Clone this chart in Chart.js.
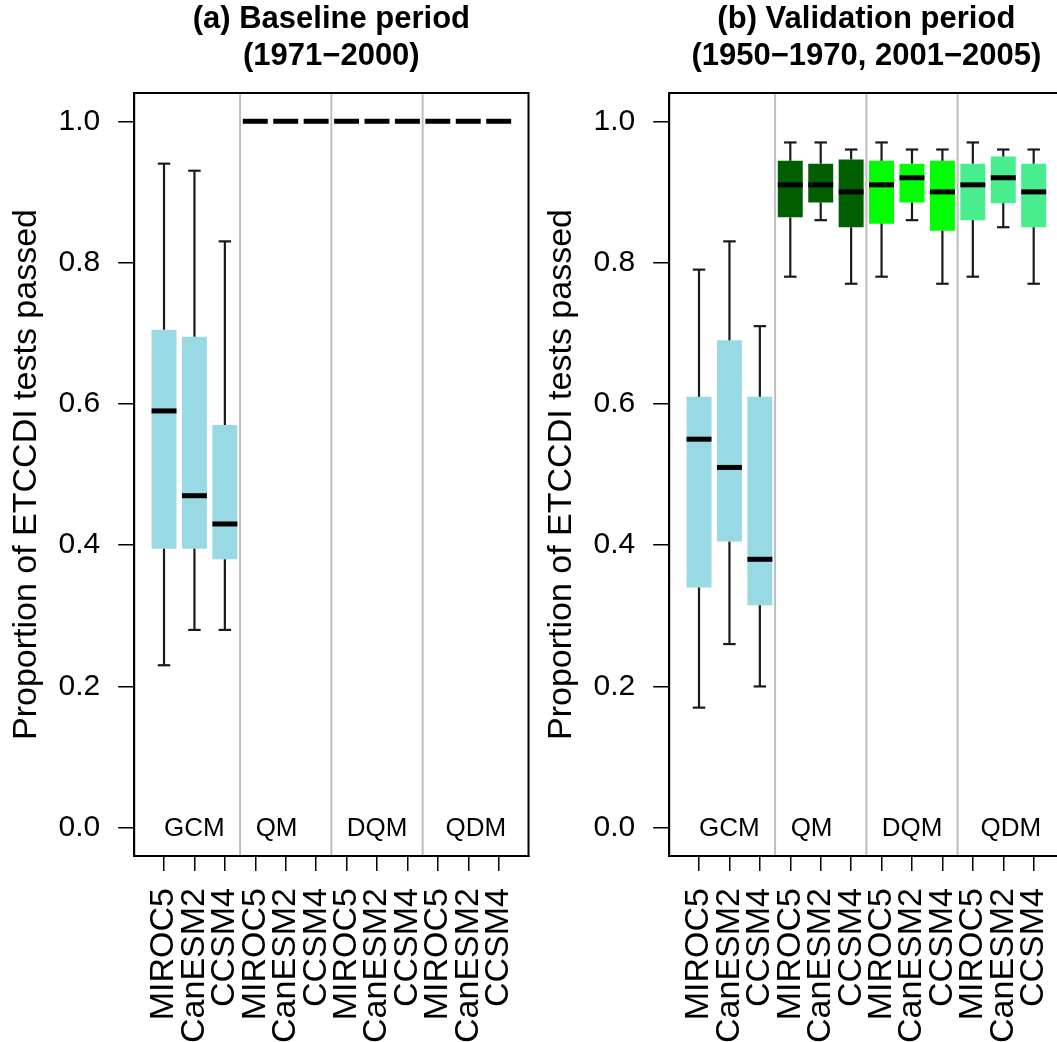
<!DOCTYPE html>
<html>
<head>
<meta charset="utf-8">
<script src="https://cdn.jsdelivr.net/npm/chart.js@4.4.1/dist/chart.umd.min.js"></script>
<style>
    html, body { margin: 0; padding: 0; background: #fff; overflow: hidden; width: 1057px; height: 1042px; }
    .panel { position: absolute; top: 0; width: 560px; height: 1042px; }
</style>
</head>
<body>
<div class="panel" style="left:0px"><canvas id="baseline"></canvas></div>
<div class="panel" style="left:535px"><canvas id="validation"></canvas></div>
<script>
// box positions 1..12: three GCMs for each of four methods
const models = ['MIROC5', 'CanESM2', 'CCSM4'];
const methods = ['GCM', 'QM', 'DQM', 'QDM'];
const positions = [1, 2, 3, 4, 5, 6, 7, 8, 9, 10, 11, 12];
const separators = [3.5, 6.5, 9.5];
const methodLabelPos = [2, 4.7, 8, 11.25];
const yTicks = [0, 0.2, 0.4, 0.6, 0.8, 1.0];
const methodColors = ['#99d9e4', '#005f00', '#00ff00', '#48ee8e'];

// (a) baseline 1971-2000
const baseMin = [0.23, 0.28, 0.28, 1, 1, 1, 1, 1, 1, 1, 1, 1];
const baseQ1  = [0.395, 0.395, 0.38, 1, 1, 1, 1, 1, 1, 1, 1, 1];
const baseMed = [0.59, 0.47, 0.43, 1, 1, 1, 1, 1, 1, 1, 1, 1];
const baseQ3  = [0.705, 0.695, 0.57, 1, 1, 1, 1, 1, 1, 1, 1, 1];
const baseMax = [0.94, 0.93, 0.83, 1, 1, 1, 1, 1, 1, 1, 1, 1];

// (b) validation 1950-1970, 2001-2005
const valMin = [0.17, 0.26, 0.20, 0.78, 0.86, 0.77, 0.78, 0.86, 0.77, 0.78, 0.85, 0.77];
const valQ1  = [0.34, 0.405, 0.315, 0.864, 0.885, 0.85, 0.855, 0.885, 0.845, 0.86, 0.884, 0.85];
const valMed = [0.55, 0.51, 0.38, 0.91, 0.91, 0.90, 0.91, 0.92, 0.90, 0.91, 0.92, 0.90];
const valQ3  = [0.61, 0.69, 0.61, 0.944, 0.94, 0.946, 0.944, 0.94, 0.944, 0.94, 0.95, 0.94];
const valMax = [0.79, 0.83, 0.71, 0.97, 0.97, 0.96, 0.97, 0.96, 0.96, 0.97, 0.96, 0.96];

const FONT = '"Liberation Sans", Arial, Helvetica, sans-serif';

function line(ctx, x1, y1, x2, y2){
    ctx.beginPath();
    ctx.moveTo(x1, y1);
    ctx.lineTo(x2, y2);
    ctx.stroke();
}

/**
 * Draws what a bar chart can't: separators, method names,
 * whiskers, medians and the box round the plot
 */
const boxExtras = {
    id: 'boxExtras',
    beforeDatasetsDraw(chart, args, opts){
        const {ctx, chartArea, scales: {x, y}} = chart;
        ctx.save();
        ctx.strokeStyle = '#bebebe';
        ctx.lineWidth = 2;
        for(let s of separators){
            let px = x.getPixelForValue(s);
            line(ctx, px, chartArea.top, px, chartArea.bottom);
        }
        ctx.fillStyle = '#000';
        ctx.font = '26px ' + FONT;
        ctx.textAlign = 'center';
        ctx.textBaseline = 'middle';
        for(let i in methods){
            ctx.fillText(methods[i], x.getPixelForValue(methodLabelPos[i]), y.getPixelForValue(0) + 1);
        }
        ctx.restore();
    },
    afterDatasetsDraw(chart, args, opts){
        const {ctx, chartArea, scales: {x, y}} = chart;
        const bars = chart.getDatasetMeta(0).data;
        ctx.save();
        for(let i = 0; i < positions.length; i++){
            let px = x.getPixelForValue(positions[i]);
            let half = bars[i].width / 2;
            let cap = half / 2;
            ctx.strokeStyle = '#1a1a1a';
            ctx.lineWidth = 2.2;
            if(opts.max[i] > opts.q3[i]){
                line(ctx, px, y.getPixelForValue(opts.q3[i]), px, y.getPixelForValue(opts.max[i]));
                line(ctx, px - cap, y.getPixelForValue(opts.max[i]), px + cap, y.getPixelForValue(opts.max[i]));
            }
            if(opts.min[i] < opts.q1[i]){
                line(ctx, px, y.getPixelForValue(opts.q1[i]), px, y.getPixelForValue(opts.min[i]));
                line(ctx, px - cap, y.getPixelForValue(opts.min[i]), px + cap, y.getPixelForValue(opts.min[i]));
            }
            ctx.strokeStyle = '#000';
            ctx.lineWidth = 5;
            line(ctx, px - half, y.getPixelForValue(opts.med[i]), px + half, y.getPixelForValue(opts.med[i]));
        }
        ctx.strokeStyle = '#000';
        ctx.lineWidth = 2;
        ctx.strokeRect(chartArea.left, chartArea.top, chartArea.right - chartArea.left, chartArea.bottom - chartArea.top);
        ctx.restore();
    }
};

function makeChart(id, title, mins, q1s, meds, q3s, maxs){
    let colors = positions.map(p => methodColors[Math.floor((p - 1) / 3)]);
    return new Chart(document.getElementById(id), {
        type: 'bar',
        data: {
            datasets: [{
                data: positions.map((p, i) => ({x: p, y: [q1s[i], q3s[i]]})),
                backgroundColor: colors,
                borderWidth: 0,
                categoryPercentage: 1,
                barPercentage: 0.82
            }]
        },
        options: {
            responsive: false,
            animation: false,
            layout: {padding: {top: 0, right: 31.5, left: 0, bottom: 0}},
            plugins: {
                legend: {display: false},
                tooltip: {enabled: false},
                title: {
                    display: true,
                    text: title,
                    fullSize: false,
                    color: '#000',
                    font: {family: FONT, size: 31, weight: 'bold', lineHeight: 1.2},
                    padding: {top: 1, bottom: 17.6}
                },
                boxExtras: {min: mins, q1: q1s, med: meds, q3: q3s, max: maxs}
            },
            scales: {
                x: {
                    type: 'linear',
                    offset: false,
                    min: 0.02,
                    max: 12.98,
                    afterBuildTicks: s => { s.ticks = positions.map(v => ({value: v})); },
                    afterFit: s => { s.height = 186; },
                    ticks: {
                        autoSkip: false,
                        minRotation: 90,
                        maxRotation: 90,
                        padding: 17,
                        color: '#000',
                        font: {family: FONT, size: 34},
                        callback: v => models[(v - 1) % 3]
                    },
                    grid: {offset: false, drawOnChartArea: false, drawTicks: true, tickLength: 15, color: '#000', lineWidth: 1.5},
                    border: {display: true, color: '#000', width: 2}
                },
                y: {
                    min: -0.04,
                    max: 1.04,
                    afterBuildTicks: s => { s.ticks = yTicks.map(v => ({value: v})); },
                    afterFit: s => { s.width = 134.2; },
                    ticks: {
                        padding: 18,
                        color: '#000',
                        font: {family: FONT, size: 30},
                        callback: v => v.toFixed(1)
                    },
                    grid: {drawOnChartArea: false, drawTicks: true, tickLength: 16, color: '#000', lineWidth: 1.5},
                    border: {display: true, color: '#000', width: 2},
                    title: {
                        display: true,
                        text: 'Proportion of ETCCDI tests passed',
                        color: '#000',
                        font: {family: FONT, size: 34},
                        padding: {top: 6, bottom: 0}
                    }
                }
            }
        },
        plugins: [boxExtras]
    });
}

window.onload = function(){
    let canvases = document.querySelectorAll('canvas');
    canvases.forEach(c => { c.width = 560; c.height = 1042; });
    makeChart('baseline', ['(a) Baseline period', '(1971\u22122000)'], baseMin, baseQ1, baseMed, baseQ3, baseMax);
    makeChart('validation', ['(b) Validation period', '(1950\u22121970, 2001\u22122005)'], valMin, valQ1, valMed, valQ3, valMax);
};
</script>
</body>
</html>
